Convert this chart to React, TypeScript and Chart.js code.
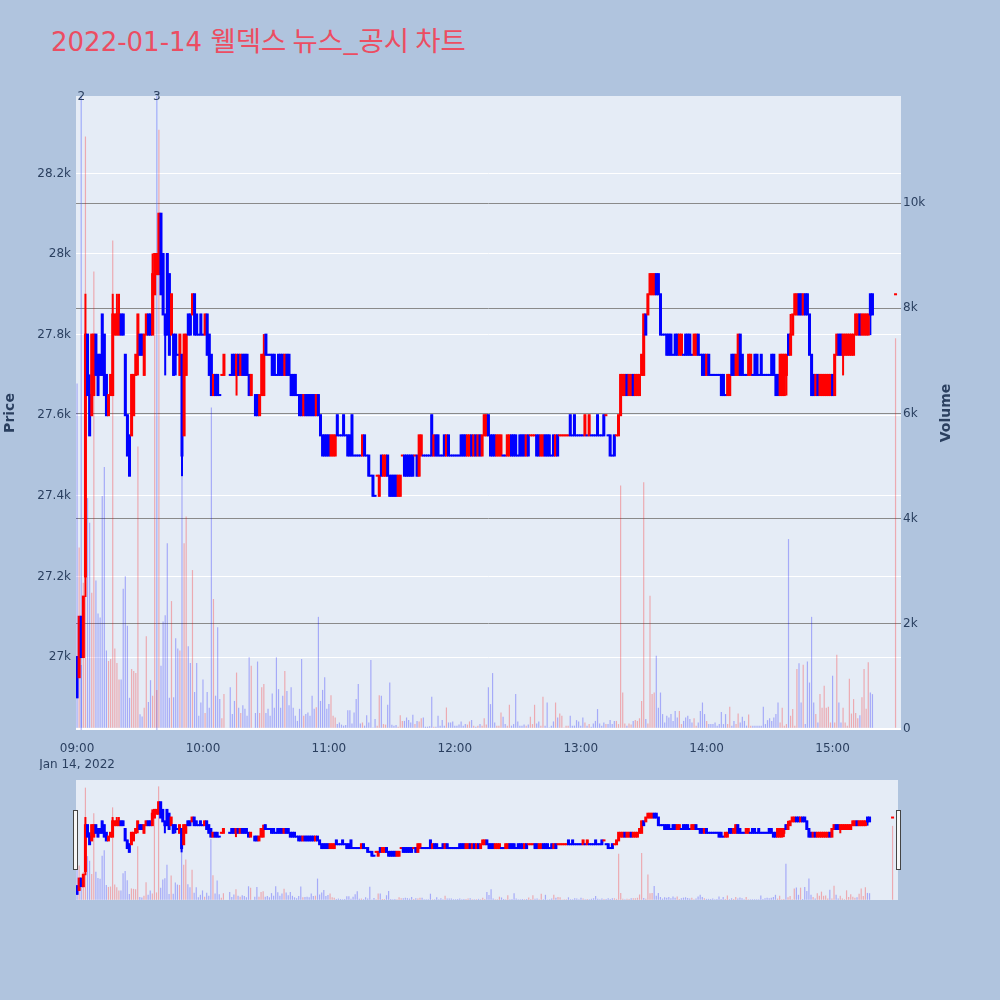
import React, { useEffect, useRef } from "react";
import { Chart, registerables } from "chart.js";

Chart.register(...registerables);

// ---------- text ----------
const TITLE_DATE = "2022-01-14 ";
const TITLE_REST = "웰덱스 뉴스_공시 차트";
const SESSION_DATE_LABEL = "Jan 14, 2022";
const SESSION_START = "09:00";
const CLOSING_AUCTION = "15:30";
const PRICE_TITLE = "Price";
const VOLUME_TITLE = "Volume";

// ---------- news markers ----------
const newsTimes = ["09:02", "09:38"];
const newsLabels = ["2", "3"];

// ---------- axis ranges / ticks ----------
const timeRange = [-0.5, 392.6];
const timeTicks = [0, 60, 120, 180, 240, 300, 360];
const priceRange = [26819, 28392];
const priceTicks = [27000, 27200, 27400, 27600, 27800, 28000, 28200];
const volumeRange = [-23, 12040];
const volumeTicks = [0, 2000, 4000, 6000, 8000, 10000];

// ---------- one-minute candles from 09:00 (last entry = 15:30 closing auction) ----------
const opens: (number | null)[] = [
  27000, 26950, 27100, 27000, 27200, 27800, 27650, 27600, 27650, 27800,
  27750, 27750, 27850, 27800, 27700, 27600, 27650, 27650, 27800, 27800,
  27800, 27850, 27850, 27750, 27600, 27550, 27550, 27600, 27700, 27750,
  27800, 27800, 27700, 27800, 27850, 27850, 27800, 27900, 27950, 27950,
  28100, 28000, 27850, 28000, 27950, 27800, 27800, 27800, 27750, 27700,
  27750, 27550, 27700, 27850, 27850, 27850, 27900, 27850, 27800, 27850,
  27800, 27800, 27850, 27800, 27750, 27650, 27700, 27700, 27650, 27700,
  27700, null, null, 27700, 27750, 27750, 27700, 27750, 27700, 27750,
  27750, 27750, 27700, 27650, null, 27650, 27650, 27600, 27650, 27650,
  27800, 27750, 27750, 27750, 27750, 27700, 27750, 27750, 27750, 27700,
  27750, 27750, 27700, 27700, 27700, 27650, 27650, 27650, 27600, 27650,
  27650, 27650, 27650, 27650, 27600, 27650, 27600, 27550, 27550, 27550,
  27550, 27500, 27500, 27500, 27600, 27550, 27550, 27600, 27550, 27550,
  27550, 27600, 27500, 27500, 27500, 27500, 27500, 27550, 27500, 27500,
  27450, 27450, 27400, 27450, 27400, 27500, 27450, 27450, 27500, 27450,
  27450, 27450, 27450, 27400, 27400, 27500, 27500, 27500, 27500, 27500,
  27500, 27500, 27500, 27450, 27500, 27500, 27500, 27500, 27500, 27600,
  27500, 27550, 27550, 27500, 27500, 27550, 27500, 27550, 27500, 27500,
  27500, 27500, 27500, 27550, 27550, 27550, 27500, 27500, 27550, 27500,
  27550, 27500, 27550, 27500, 27550, 27550, 27600, 27550, 27550, 27550,
  27500, 27500, 27500, 27500, 27500, 27500, 27500, 27550, 27550, 27550,
  27500, 27550, 27550, 27550, 27500, 27550, 27550, 27550, 27550, 27550,
  27550, 27500, 27500, 27550, 27550, 27550, 27500, 27550, 27500, 27550,
  27550, 27550, 27550, 27550, 27550, 27600, 27550, 27600, 27550, 27550,
  27550, 27550, 27550, 27550, 27550, 27550, 27550, 27550, 27600, 27550,
  27550, 27600, 27600, 27550, 27550, 27500, 27550, 27550, 27550, 27600,
  27650, 27650, 27700, 27650, 27650, 27700, 27650, 27650, 27650, 27700,
  27700, 27850, 27850, 27900, 27900, 27900, 27950, 27950, 27900, 27800,
  27800, 27800, 27800, 27800, 27750, 27800, 27800, 27750, 27750, 27750,
  27800, 27800, 27800, 27750, 27750, 27750, 27800, 27750, 27750, 27750,
  27700, 27750, 27700, 27700, 27700, 27700, 27700, 27700, 27700, 27650,
  27650, 27650, 27750, 27750, 27700, 27700, 27800, 27750, 27700, 27700,
  27700, 27700, 27700, 27750, 27750, 27700, 27750, 27700, 27700, 27700,
  27700, 27750, 27750, 27700, 27700, 27650, 27650, 27650, 27700, 27800,
  27750, 27800, 27850, 27850, 27900, 27900, 27850, 27900, 27900, 27850,
  27750, 27700, 27650, 27700, 27650, 27650, 27650, 27650, 27650, 27650,
  27700, 27650, 27750, 27800, 27800, 27750, 27750, 27750, 27750, 27750,
  27750, 27800, 27800, 27850, 27800, 27800, 27800, 27800, 27900, 27900,
  27900,
];

const highs: (number | null)[] = [
  27000, 27100, 27100, 27150, 27900, 27800, 27700, 27800, 27800, 27800,
  27750, 27750, 27850, 27800, 27700, 27650, 27700, 27900, 27850, 27900,
  27900, 27850, 27850, 27750, 27600, 27550, 27700, 27700, 27750, 27850,
  27800, 27800, 27800, 27850, 27850, 27850, 28000, 28000, 28000, 28100,
  28100, 28000, 27850, 28000, 27950, 27900, 27800, 27800, 27750, 27800,
  27750, 27800, 27800, 27850, 27850, 27900, 27900, 27850, 27800, 27850,
  27800, 27850, 27850, 27800, 27750, 27700, 27700, 27700, 27650, 27700,
  27750, null, null, 27700, 27750, 27750, 27750, 27750, 27750, 27750,
  27750, 27750, 27700, 27700, null, 27650, 27650, 27650, 27750, 27800,
  27800, 27750, 27750, 27750, 27750, 27700, 27750, 27750, 27750, 27750,
  27750, 27750, 27700, 27700, 27700, 27650, 27650, 27650, 27650, 27650,
  27650, 27650, 27650, 27650, 27650, 27650, 27600, 27550, 27550, 27550,
  27550, 27550, 27550, 27550, 27600, 27550, 27550, 27600, 27550, 27550,
  27550, 27600, 27500, 27500, 27500, 27500, 27550, 27550, 27500, 27500,
  27450, 27450, 27400, 27450, 27450, 27500, 27500, 27500, 27500, 27450,
  27450, 27450, 27450, 27450, 27450, 27500, 27500, 27500, 27500, 27500,
  27500, 27500, 27500, 27550, 27550, 27500, 27500, 27500, 27500, 27600,
  27550, 27550, 27550, 27500, 27500, 27550, 27550, 27550, 27500, 27500,
  27500, 27500, 27500, 27550, 27550, 27550, 27550, 27550, 27550, 27550,
  27550, 27550, 27550, 27550, 27600, 27600, 27600, 27550, 27550, 27550,
  27550, 27550, 27550, 27500, 27500, 27550, 27550, 27550, 27550, 27550,
  27500, 27550, 27550, 27550, 27550, 27550, 27550, 27550, 27550, 27550,
  27550, 27550, 27550, 27550, 27550, 27550, 27500, 27550, 27550, 27550,
  27550, 27550, 27550, 27550, 27550, 27600, 27550, 27600, 27550, 27550,
  27550, 27550, 27600, 27550, 27600, 27550, 27550, 27550, 27600, 27550,
  27550, 27600, 27600, 27550, 27550, 27500, 27550, 27550, 27600, 27700,
  27700, 27700, 27700, 27700, 27700, 27700, 27700, 27700, 27700, 27750,
  27850, 27850, 27900, 27950, 27950, 27950, 27950, 27950, 27900, 27800,
  27800, 27800, 27800, 27800, 27750, 27800, 27800, 27800, 27800, 27750,
  27800, 27800, 27800, 27750, 27800, 27800, 27800, 27750, 27750, 27750,
  27750, 27750, 27700, 27700, 27700, 27700, 27700, 27700, 27700, 27650,
  27700, 27700, 27750, 27750, 27750, 27800, 27800, 27750, 27700, 27700,
  27750, 27750, 27700, 27750, 27750, 27700, 27750, 27700, 27700, 27700,
  27700, 27750, 27750, 27700, 27700, 27750, 27750, 27750, 27750, 27800,
  27850, 27850, 27900, 27900, 27900, 27900, 27900, 27900, 27900, 27850,
  27750, 27700, 27700, 27700, 27700, 27700, 27700, 27700, 27700, 27700,
  27700, 27750, 27800, 27800, 27800, 27800, 27800, 27800, 27800, 27800,
  27800, 27850, 27850, 27850, 27850, 27850, 27850, 27850, 27900, 27900,
  27900,
];

const lows: (number | null)[] = [
  26900, 26950, 27000, 27000, 27150, 27650, 27550, 27600, 27650, 27700,
  27650, 27700, 27700, 27650, 27600, 27600, 27650, 27650, 27800, 27800,
  27800, 27800, 27800, 27600, 27500, 27450, 27550, 27600, 27700, 27700,
  27750, 27750, 27700, 27800, 27800, 27800, 27800, 27900, 27950, 27950,
  27900, 27850, 27700, 27800, 27750, 27800, 27700, 27700, 27750, 27700,
  27450, 27550, 27700, 27800, 27800, 27850, 27800, 27800, 27800, 27800,
  27800, 27800, 27750, 27700, 27650, 27650, 27650, 27650, 27650, 27700,
  27700, null, null, 27700, 27700, 27700, 27650, 27700, 27700, 27700,
  27700, 27700, 27650, 27650, null, 27600, 27600, 27600, 27650, 27650,
  27750, 27750, 27750, 27700, 27700, 27700, 27700, 27700, 27700, 27700,
  27700, 27700, 27650, 27650, 27650, 27650, 27600, 27600, 27600, 27600,
  27600, 27600, 27600, 27600, 27600, 27600, 27550, 27500, 27500, 27500,
  27500, 27500, 27500, 27500, 27550, 27550, 27550, 27550, 27550, 27500,
  27500, 27500, 27500, 27500, 27500, 27500, 27500, 27500, 27500, 27450,
  27450, 27400, 27400, 27450, 27400, 27450, 27450, 27450, 27450, 27400,
  27400, 27400, 27400, 27400, 27400, 27500, 27450, 27450, 27450, 27450,
  27450, 27500, 27450, 27450, 27500, 27500, 27500, 27500, 27500, 27500,
  27500, 27500, 27500, 27500, 27500, 27500, 27500, 27500, 27500, 27500,
  27500, 27500, 27500, 27500, 27500, 27500, 27500, 27500, 27500, 27500,
  27500, 27500, 27500, 27500, 27550, 27550, 27550, 27500, 27500, 27500,
  27500, 27500, 27500, 27500, 27500, 27500, 27500, 27500, 27500, 27500,
  27500, 27500, 27500, 27500, 27500, 27500, 27550, 27550, 27550, 27500,
  27500, 27500, 27500, 27500, 27500, 27500, 27500, 27500, 27500, 27500,
  27550, 27550, 27550, 27550, 27550, 27550, 27550, 27550, 27550, 27550,
  27550, 27550, 27550, 27550, 27550, 27550, 27550, 27550, 27550, 27550,
  27550, 27550, 27600, 27550, 27500, 27500, 27500, 27550, 27550, 27600,
  27650, 27650, 27650, 27650, 27650, 27650, 27650, 27650, 27650, 27700,
  27700, 27800, 27850, 27900, 27900, 27900, 27900, 27900, 27800, 27800,
  27800, 27750, 27750, 27750, 27750, 27750, 27750, 27750, 27750, 27750,
  27750, 27750, 27750, 27750, 27750, 27750, 27750, 27750, 27700, 27700,
  27700, 27700, 27700, 27700, 27700, 27700, 27700, 27650, 27650, 27650,
  27650, 27650, 27700, 27700, 27700, 27700, 27700, 27700, 27700, 27700,
  27700, 27700, 27700, 27700, 27700, 27700, 27700, 27700, 27700, 27700,
  27700, 27700, 27700, 27650, 27650, 27650, 27650, 27650, 27650, 27750,
  27750, 27800, 27850, 27850, 27850, 27850, 27850, 27850, 27850, 27750,
  27650, 27650, 27650, 27650, 27650, 27650, 27650, 27650, 27650, 27650,
  27650, 27650, 27750, 27750, 27750, 27700, 27750, 27750, 27750, 27750,
  27750, 27800, 27800, 27800, 27800, 27800, 27800, 27800, 27800, 27850,
  27900,
];

const closes: (number | null)[] = [
  26900, 27100, 27000, 27150, 27800, 27650, 27550, 27800, 27800, 27700,
  27650, 27700, 27700, 27650, 27600, 27650, 27700, 27850, 27850, 27850,
  27850, 27800, 27800, 27600, 27500, 27450, 27700, 27700, 27750, 27850,
  27750, 27750, 27800, 27850, 27800, 27800, 27950, 28000, 28000, 28100,
  27900, 27850, 27800, 27800, 27750, 27900, 27700, 27750, 27750, 27800,
  27500, 27800, 27800, 27800, 27800, 27900, 27800, 27800, 27800, 27800,
  27800, 27850, 27750, 27700, 27650, 27700, 27650, 27650, 27650, 27700,
  27750, null, null, 27700, 27700, 27700, 27750, 27700, 27750, 27700,
  27700, 27700, 27650, 27700, null, 27600, 27600, 27650, 27750, 27750,
  27750, 27750, 27750, 27700, 27700, 27700, 27700, 27700, 27700, 27750,
  27700, 27700, 27650, 27650, 27650, 27650, 27600, 27600, 27650, 27600,
  27600, 27600, 27600, 27600, 27650, 27600, 27550, 27500, 27500, 27500,
  27500, 27550, 27550, 27550, 27550, 27550, 27550, 27550, 27550, 27500,
  27500, 27500, 27500, 27500, 27500, 27500, 27550, 27500, 27500, 27450,
  27450, 27400, 27400, 27450, 27450, 27450, 27500, 27500, 27450, 27400,
  27400, 27400, 27400, 27450, 27450, 27500, 27450, 27450, 27450, 27450,
  27450, 27500, 27450, 27550, 27550, 27500, 27500, 27500, 27500, 27500,
  27550, 27500, 27500, 27500, 27500, 27500, 27550, 27500, 27500, 27500,
  27500, 27500, 27500, 27500, 27500, 27500, 27550, 27550, 27500, 27550,
  27500, 27550, 27500, 27550, 27600, 27600, 27550, 27500, 27500, 27500,
  27550, 27550, 27550, 27500, 27500, 27550, 27550, 27500, 27500, 27500,
  27500, 27500, 27500, 27500, 27550, 27500, 27550, 27550, 27550, 27500,
  27500, 27550, 27550, 27500, 27500, 27500, 27500, 27500, 27550, 27500,
  27550, 27550, 27550, 27550, 27550, 27550, 27550, 27550, 27550, 27550,
  27550, 27550, 27600, 27550, 27600, 27550, 27550, 27550, 27550, 27550,
  27550, 27550, 27600, 27550, 27500, 27500, 27500, 27550, 27600, 27700,
  27700, 27700, 27650, 27700, 27700, 27650, 27700, 27700, 27700, 27750,
  27850, 27800, 27900, 27950, 27950, 27950, 27900, 27900, 27800, 27800,
  27800, 27750, 27750, 27750, 27750, 27750, 27750, 27800, 27800, 27750,
  27750, 27750, 27750, 27750, 27800, 27800, 27750, 27750, 27700, 27700,
  27750, 27700, 27700, 27700, 27700, 27700, 27700, 27650, 27650, 27650,
  27700, 27700, 27700, 27700, 27750, 27800, 27700, 27700, 27700, 27700,
  27750, 27750, 27700, 27700, 27700, 27700, 27700, 27700, 27700, 27700,
  27700, 27700, 27700, 27650, 27650, 27750, 27750, 27750, 27750, 27750,
  27800, 27850, 27900, 27900, 27850, 27850, 27900, 27850, 27850, 27750,
  27650, 27650, 27700, 27650, 27700, 27700, 27700, 27700, 27700, 27700,
  27650, 27750, 27800, 27750, 27750, 27800, 27800, 27800, 27800, 27800,
  27800, 27850, 27850, 27800, 27850, 27850, 27850, 27850, 27850, 27850,
  27900,
];

const volumes: (number | null)[] = [
  6570, 3450, 1215, 2780, 11270, 4390, 3920, 2590, 8700, 2820,
  2195, 2117, 4430, 4980, 1490, 1290, 1330, 9290, 1530, 1250,
  940, 940, 2665, 2900, 1960, 590, 1140, 1100, 1060, 5370,
  275, 235, 400, 1760, 510, 925, 630, 8700, 740, 11400,
  1200, 2040, 2160, 3530, 590, 2430, 600, 1725, 1530, 1490,
  5200, 3530, 4040, 1570, 1250, 3020, 700, 1250, 250, 500,
  940, 300, 700, 400, 6115, 2470, 630, 1930, 565, 200,
  660, null, null, 790, 280, 530, 1070, 400, 300, 450,
  380, 250, 1360, 1200, null, 300, 1280, 300, 790, 850,
  300, 380, 250, 670, 400, 1360, 755, 400, 630, 1100,
  720, 450, 790, 400, 250, 150, 380, 1330, 250, 280,
  310, 250, 630, 380, 410, 2130, 530, 740, 980, 380,
  470, 640, 250, 215, 90, 120, 80, 60, 70, 355,
  355, 100, 310, 565, 850, 100, 120, 60, 260, 120,
  1310, 25, 185, 60, 640, 630, 90, 80, 457, 880,
  75, 60, 70, 40, 260, 150, 150, 215, 165, 120,
  267, 90, 150, 140, 200, 215, 40, 40, 50, 610,
  40, 40, 250, 60, 165, 60, 405, 120, 120, 140,
  60, 60, 80, 140, 60, 90, 80, 140, 165, 60,
  40, 60, 90, 60, 200, 80, 790, 470, 1060, 120,
  60, 60, 310, 230, 90, 60, 457, 60, 90, 660,
  140, 60, 60, 80, 60, 80, 230, 90, 457, 100,
  140, 60, 610, 60, 500, 25, 60, 140, 500, 215,
  290, 250, 25, 60, 60, 250, 60, 60, 165, 140,
  60, 215, 120, 60, 90, 40, 100, 150, 375, 100,
  60, 120, 90, 90, 165, 90, 150, 150, 90, 4630,
  690, 100, 60, 100, 80, 150, 165, 150, 200, 530,
  4690, 185, 100, 2530, 660, 690, 1390, 400, 690, 280,
  120, 250, 215, 280, 150, 340, 215, 340, 90, 150,
  215, 250, 185, 120, 200, 60, 120, 340, 500, 280,
  150, 90, 90, 90, 120, 60, 90, 320, 90, 280,
  90, 420, 60, 150, 90, 290, 120, 230, 150, 60,
  270, 60, 60, 60, 60, 60, 60, 420, 90, 165,
  200, 150, 215, 280, 500, 120, 400, 60, 90, 3610,
  250, 375, 60, 1140, 1245, 500, 1220, 90, 1280, 880,
  2130, 500, 280, 120, 660, 400, 820, 400, 420, 120,
  1010, 120, 1410, 500, 120, 400, 120, 60, 950, 290,
  565, 300, 200, 260, 600, 1140, 380, 1265, 690, 660,
  7430,
];

// ---------- style ----------
const PAPER = "#b0c4de";
const PLOT_BG = "#e5ecf6";
const INK = "#2a3f5f";
const TITLE_COLOR = "#ec4d62";
const FONT = '"DejaVu Sans", Verdana, sans-serif';
const UP = "#ff0000";
const DOWN = "#0000ff";
const UP_VOL = "rgba(255,0,0,0.28)";
const DOWN_VOL = "rgba(0,0,255,0.28)";

const toMinutes = (t: string) => {
  const [h, m] = t.split(":").map(Number);
  const [h0, m0] = SESSION_START.split(":").map(Number);
  return h * 60 + m - (h0 * 60 + m0);
};

const fmtTime = (minFromStart: number) => {
  const [h0, m0] = SESSION_START.split(":").map(Number);
  const total = h0 * 60 + m0 + minFromStart;
  const hh = String(Math.floor(total / 60)).padStart(2, "0");
  const mm = String(total % 60).padStart(2, "0");
  return `${hh}:${mm}`;
};

// x position (minutes after 09:00) of each entry: consecutive minutes, last = closing auction
const xs = opens.map((_, i) => (i === opens.length - 1 ? toMinutes(CLOSING_AUCTION) : i));

// plotly-style direction: open==close uses change vs previous close
const upFlags: boolean[] = (() => {
  const out: boolean[] = [];
  let inc = true;
  let prev: number | null = null;
  for (let i = 0; i < opens.length; i++) {
    const o = opens[i];
    const c = closes[i];
    if (o == null || c == null) {
      out.push(inc);
      continue;
    }
    if (c === o) {
      if (prev !== null && c !== prev) inc = c > prev;
    } else inc = c > o;
    prev = c;
    out.push(inc);
  }
  return out;
})();

function buildDatasets(): any[] {
  const vol: any[] = [];
  const wick: any[] = [];
  const body: any[] = [];
  const volColors: string[] = [];
  const cColors: string[] = [];
  for (let i = 0; i < opens.length; i++) {
    const o = opens[i], h = highs[i], l = lows[i], c = closes[i], v = volumes[i];
    if (o == null || h == null || l == null || c == null) continue;
    const x = xs[i];
    const up = upFlags[i];
    vol.push({ x, y: v ?? 0 });
    volColors.push(up ? UP_VOL : DOWN_VOL);
    wick.push({ x, y: [l, h] });
    body.push({ x, y: [Math.min(o, c), Math.max(o, c)] });
    cColors.push(up ? UP : DOWN);
  }
  return [
    {
      type: "bar", label: "Volume", data: vol, yAxisID: "y1",
      backgroundColor: volColors, borderWidth: 0, barThickness: 1.2,
      inflateAmount: 0, grouped: false, order: 3,
    },
    {
      type: "bar", label: "Wick", data: wick, yAxisID: "y",
      backgroundColor: cColors, borderWidth: 0, barThickness: 1,
      inflateAmount: 0.5, grouped: false, order: 2,
    },
    {
      type: "bar", label: "Candle", data: body, yAxisID: "y",
      backgroundColor: cColors, borderWidth: 0, barThickness: 1,
      inflateAmount: 1, grouped: false, order: 1,
    },
  ];
}

const plotBg = {
  id: "plotBg",
  beforeDraw(chart: any) {
    const { ctx, chartArea: a } = chart;
    ctx.save();
    ctx.fillStyle = PLOT_BG;
    ctx.fillRect(a.left, a.top, a.right - a.left, a.bottom - a.top);
    ctx.restore();
  },
};

const mainOverlay = {
  id: "mainOverlay",
  beforeDatasetsDraw(chart: any) {
    const { ctx, chartArea: a, scales } = chart;
    ctx.save();
    ctx.strokeStyle = "rgba(90,110,255,0.4)";
    ctx.lineWidth = 1.5;
    newsTimes.forEach((t) => {
      const px = scales.x.getPixelForValue(toMinutes(t));
      ctx.beginPath();
      ctx.moveTo(px, a.top);
      ctx.lineTo(px, a.bottom);
      ctx.stroke();
    });
    ctx.restore();
  },
  afterDraw(chart: any) {
    const { ctx, chartArea: a, scales } = chart;
    ctx.save();
    ctx.fillStyle = INK;
    ctx.font = `12px ${FONT}`;
    ctx.textAlign = "center";
    ctx.textBaseline = "middle";
    newsTimes.forEach((t, i) => {
      const px = scales.x.getPixelForValue(toMinutes(t));
      ctx.fillText(newsLabels[i], px, a.top + 1);
    });
    ctx.restore();
    const midY = (a.top + a.bottom) / 2;
    [[10, PRICE_TITLE], [946, VOLUME_TITLE]].forEach(([x, text]) => {
      ctx.save();
      ctx.fillStyle = INK;
      ctx.font = `bold 14px ${FONT}`;
      ctx.textAlign = "center";
      ctx.textBaseline = "middle";
      ctx.translate(x as number, midY);
      ctx.rotate(-Math.PI / 2);
      ctx.fillText(text as string, 0, 0);
      ctx.restore();
    });
  },
};

const sliderOverlay = {
  id: "sliderOverlay",
  afterDraw(chart: any) {
    const { ctx, chartArea: a } = chart;
    const midY = (a.top + a.bottom) / 2;
    ctx.save();
    ctx.fillStyle = "#f7f7f7";
    ctx.strokeStyle = "#444444";
    ctx.lineWidth = 1;
    const lx = Math.round(a.left) - 2.5;
    const rx = Math.round(a.right) - 1.5;
    [lx, rx].forEach((hx) => {
      ctx.fillRect(hx, Math.round(midY) - 29.5, 4, 59);
      ctx.strokeRect(hx, Math.round(midY) - 29.5, 4, 59);
    });
    ctx.restore();
  },
};

const tickFont = { family: FONT, size: 12, lineHeight: 1.35 };
const setTicks = (values: number[]) => (s: any) => {
  s.ticks = values.map((v) => ({ value: v }));
};

function mainConfig(): any {
  return {
    type: "bar",
    data: { datasets: buildDatasets() },
    options: {
      responsive: false,
      animation: false,
      events: [],
      layout: { padding: { top: 96, left: 0, right: 0, bottom: 0 } },
      plugins: { legend: { display: false }, tooltip: { enabled: false }, title: { display: false } },
      scales: {
        x: {
          type: "linear", min: timeRange[0], max: timeRange[1], offset: false,
          grid: { display: false }, border: { display: false },
          afterBuildTicks: setTicks(timeTicks),
          ticks: {
            autoSkip: false, maxRotation: 0,
            padding: 3, color: INK, font: tickFont,
            callback: (v: any) => {
              const n = Number(v);
              const label = fmtTime(n);
              return n === 0 ? [label, SESSION_DATE_LABEL] : label;
            },
          },
          afterFit: (s: any) => { s.height = 40; },
        },
        y: {
          type: "linear", position: "left", min: priceRange[0], max: priceRange[1],
          grid: { color: "#ffffff", lineWidth: 1, drawTicks: false }, border: { display: false },
          afterBuildTicks: setTicks(priceTicks),
          ticks: {
            autoSkip: false, padding: 5, color: INK, font: tickFont,
            callback: (v: any) => `${Number(v) / 1000}k`,
          },
          afterFit: (s: any) => { s.width = 76; },
        },
        y1: {
          type: "linear", position: "right", min: volumeRange[0], max: volumeRange[1],
          grid: {
            drawTicks: false,
            color: (c: any) => (c.tick && c.tick.value === 0 ? "#ffffff" : "#8a8a8a"),
            lineWidth: (c: any) => (c.tick && c.tick.value === 0 ? 2 : 1),
          },
          border: { display: false },
          afterBuildTicks: setTicks(volumeTicks),
          ticks: {
            autoSkip: false, padding: 2, color: INK, font: tickFont,
            callback: (v: any) => (Number(v) === 0 ? "0" : `${Number(v) / 1000}k`),
          },
          afterFit: (s: any) => { s.width = 99; },
        },
      },
    },
    plugins: [plotBg, mainOverlay],
  };
}

function sliderConfig(): any {
  return {
    type: "bar",
    data: { datasets: buildDatasets() },
    options: {
      responsive: false,
      animation: false,
      events: [],
      layout: { padding: { top: 10, left: 76, right: 102, bottom: 10 } },
      plugins: { legend: { display: false }, tooltip: { enabled: false }, title: { display: false } },
      scales: {
        x: { type: "linear", display: false, min: timeRange[0], max: timeRange[1], offset: false },
        y: { type: "linear", display: false, min: priceRange[0], max: priceRange[1] },
        y1: { type: "linear", display: false, min: volumeRange[0], max: volumeRange[1] },
      },
    },
    plugins: [plotBg, sliderOverlay],
  };
}

export default function App() {
  const mainRef = useRef<HTMLCanvasElement>(null);
  const sliderRef = useRef<HTMLCanvasElement>(null);

  useEffect(() => {
    const main = new Chart(mainRef.current as HTMLCanvasElement, mainConfig());
    const slider = new Chart(sliderRef.current as HTMLCanvasElement, sliderConfig());
    return () => {
      main.destroy();
      slider.destroy();
    };
  }, []);

  return (
    <div
      style={{
        position: "absolute", left: 0, top: 0, width: 1000, height: 1000,
        background: PAPER, overflow: "hidden",
      }}
    >
      <div
        style={{
          position: "absolute", left: 51, top: 24, whiteSpace: "nowrap",
          fontFamily: `"DejaVu Sans", "Noto Sans CJK KR", sans-serif`,
          fontSize: 26, lineHeight: "30px", color: TITLE_COLOR,
        }}
      >
        <span>{TITLE_DATE}</span>
        <span style={{ fontSize: 27.5, fontFamily: `"Noto Sans CJK KR", sans-serif` }}>{TITLE_REST}</span>
      </div>
      <canvas
        ref={mainRef}
        width={1000}
        height={770}
        style={{ position: "absolute", left: 0, top: 0, width: 1000, height: 770 }}
      />
      <canvas
        ref={sliderRef}
        width={1000}
        height={140}
        style={{ position: "absolute", left: 0, top: 770, width: 1000, height: 140 }}
      />
    </div>
  );
}
